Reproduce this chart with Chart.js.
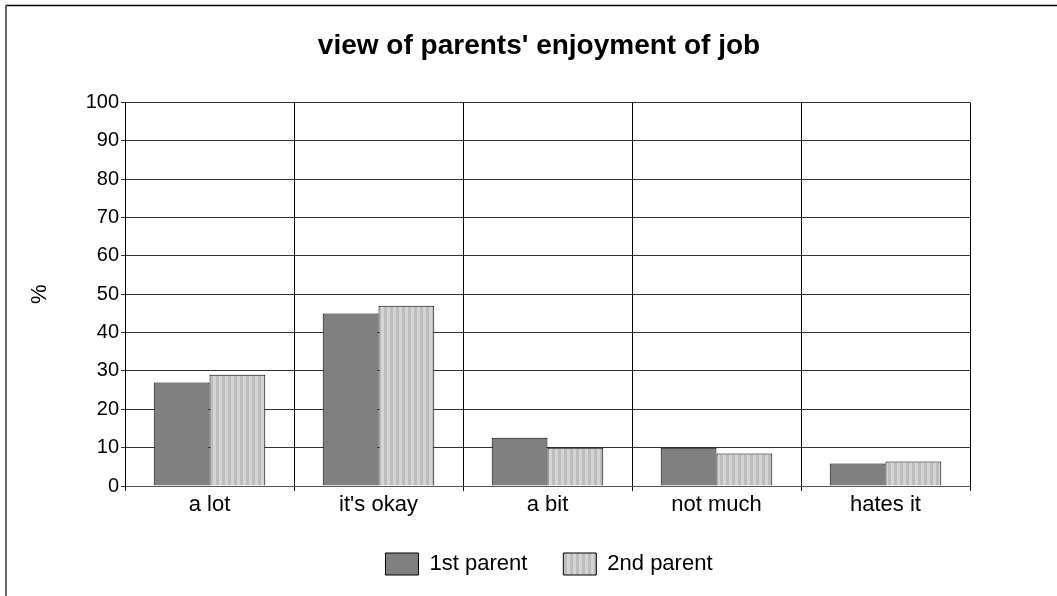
<!DOCTYPE html>
<html><head><meta charset="utf-8">
<script src="https://cdn.jsdelivr.net/npm/chart.js@4"></script>
<style>html,body{margin:0;padding:0;background:#fff}#wrap{width:1057px;height:596px;position:relative}</style>
</head><body><div id="wrap"><canvas id="c" width="1057" height="596"></canvas></div>
<script>
const categories = ["a lot", "it's okay", "a bit", "not much", "hates it"];
const firstParent = [27, 45, 12.6, 10, 5.9];
const secondParent = [29, 47, 10, 8.5, 6.4];
const seriesNames = ["1st parent", "2nd parent"];
const yMin = 0, yMax = 100, yStep = 10;

const FONT = "'Liberation Sans', Arial, sans-serif";

function stripePattern() {
  const pc = document.createElement('canvas');
  pc.width = 6; pc.height = 4;
  const g = pc.getContext('2d');
  g.fillStyle = '#bdbdbd'; g.fillRect(0, 0, 6, 4);
  g.fillStyle = '#d4d4d4'; g.fillRect(3, 0, 3, 4);
  return document.getElementById('c').getContext('2d').createPattern(pc, 'repeat');
}

const frame = {
  id: 'frame',
  afterLayout(chart) {
    if (chart.legend) { chart.legend.left += 10; chart.legend.right += 10; }
  },
  afterDraw(chart) {
    const ctx = chart.ctx;
    ctx.save();
    ctx.strokeStyle = '#000'; ctx.lineWidth = 1.5;
    ctx.beginPath(); ctx.moveTo(5, 5.5); ctx.lineTo(1057, 5.5); ctx.stroke();
    ctx.strokeStyle = '#666'; ctx.lineWidth = 2;
    ctx.beginPath(); ctx.moveTo(6, 5); ctx.lineTo(6, 596); ctx.stroke();
    ctx.restore();
  }
};

new Chart(document.getElementById('c'), {
  type: 'bar',
  data: {
    labels: categories,
    datasets: [
      { label: seriesNames[0], data: firstParent, backgroundColor: '#808080', borderColor: '#000', borderWidth: 1 },
      { label: seriesNames[1], data: secondParent, backgroundColor: stripePattern(), borderColor: '#000', borderWidth: 1 }
    ]
  },
  options: {
    responsive: false,
    animation: false,
    devicePixelRatio: 1,
    layout: { padding: { left: 23, right: 2, top: 0, bottom: 11 } },
    datasets: { bar: { categoryPercentage: 0.66, barPercentage: 1.0 } },
    plugins: {
      title: {
        display: true,
        text: "view of parents' enjoyment of job",
        color: '#000',
        font: { family: FONT, size: 28, weight: 'bold' },
        padding: { top: 29, bottom: 40 }
      },
      legend: {
        position: 'bottom',
        labels: {
          color: '#000',
          font: { family: FONT, size: 22 },
          boxWidth: 33, boxHeight: 22,
          padding: 36
        }
      },
      tooltip: { enabled: false }
    },
    scales: {
      x: {
        grid: { color: '#000', offset: true, tickLength: 5, lineWidth: 1 },
        border: { color: '#555' },
        ticks: { color: '#000', font: { family: FONT, size: 22 }, padding: 1 },
        afterFit(s) { s.height = 31; }
      },
      y: {
        min: yMin, max: yMax,
        ticks: { stepSize: yStep, color: '#000', font: { family: FONT, size: 20 }, padding: 2 },
        grid: { color: '#333', tickLength: 4 },
        border: { color: '#000' },
        title: { display: true, text: '%', color: '#000', font: { family: FONT, size: 22 } },
        afterFit(s) { s.width = 102; }
      },
      spacer: {
        type: 'linear', position: 'right',
        ticks: { display: false }, grid: { display: false }, border: { display: false },
        afterFit(s) { s.width = 85; }
      }
    }
  },
  plugins: [frame]
});
</script></body></html>
